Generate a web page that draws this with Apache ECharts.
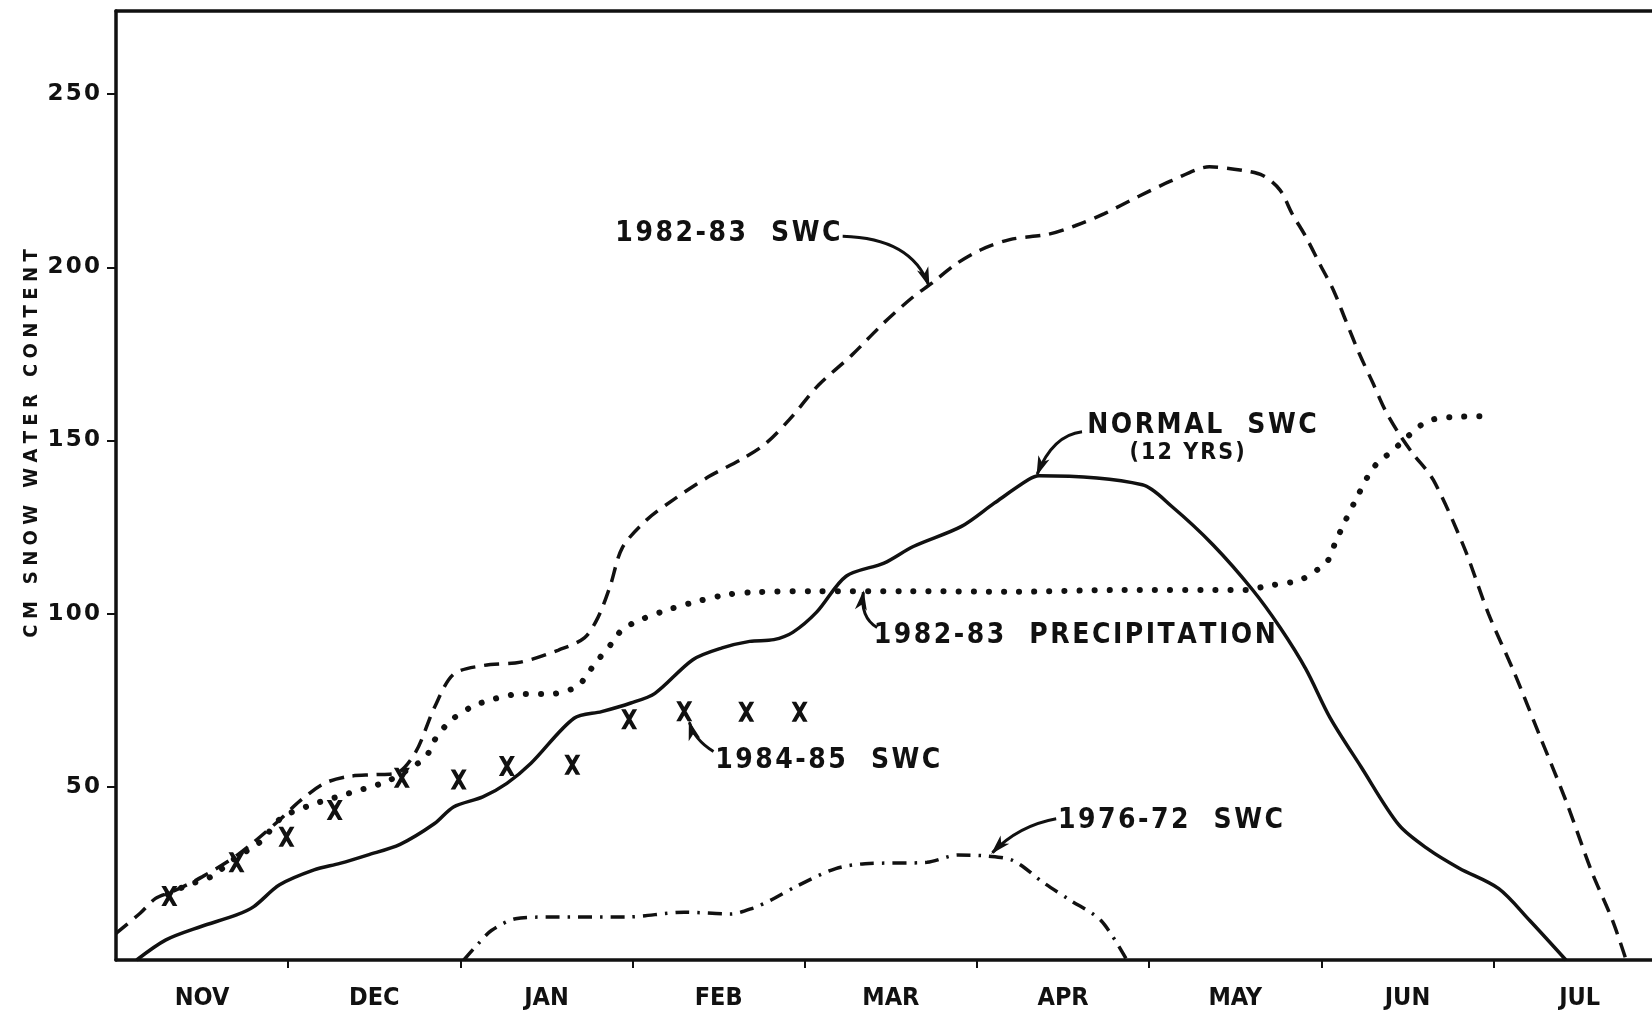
<!DOCTYPE html>
<html>
<head>
<meta charset="utf-8">
<script src="https://cdn.jsdelivr.net/npm/echarts/dist/echarts.min.js"></script>
<style>
  html, body { margin: 0; padding: 0; background: #fff; }
  #main { width: 1652px; height: 1011px; }
</style>
</head>
<body>
<div id="main"></div>
<script>
// months (x = months since 1 Nov)
var months = ['NOV', 'DEC', 'JAN', 'FEB', 'MAR', 'APR', 'MAY', 'JUN', 'JUL'];
var yTicks = [50, 100, 150, 200, 250];
var yTitle = 'CM SNOW WATER CONTENT';

// 1982-83 SWC (dashed)
var swc8283 = [[0, 7.7], [0.14, 13.5], [0.23, 17.8], [0.33, 19.8], [0.5, 24], [0.71, 30.5], [0.94, 40], [1.07, 46],
  [1.21, 51], [1.35, 53], [1.5, 53.5], [1.63, 54], [1.74, 60], [1.85, 73], [1.96, 82.5], [2.13, 85], [2.35, 86],
  [2.57, 89.5], [2.72, 93], [2.80, 99], [2.87, 108], [2.94, 119], [3.08, 127], [3.24, 133], [3.44, 139.5],
  [3.63, 144.5], [3.77, 149], [3.91, 156], [4.08, 166], [4.27, 174.5], [4.46, 184], [4.63, 191.5], [4.74, 195.5],
  [4.88, 201], [5.02, 205], [5.19, 208], [5.41, 209.5], [5.57, 212], [5.74, 215.5], [5.94, 220.5], [6.13, 225],
  [6.35, 229], [6.54, 228], [6.66, 226.5], [6.76, 222.3], [6.83, 215.5], [6.91, 208.8], [6.99, 201], [7.07, 193.4],
  [7.14, 184.8], [7.22, 175.1], [7.30, 166.5], [7.37, 158.8], [7.45, 152], [7.53, 146.3], [7.65, 138.6],
  [7.83, 119], [7.97, 100], [8.12, 83], [8.27, 64.5], [8.42, 46], [8.57, 25.5], [8.69, 11.5], [8.77, 0]];

// 1982-83 precipitation (dotted)
var precip8283 = [[0.3, 19], [0.42, 21.7], [0.55, 24], [0.69, 29.3], [0.84, 34.2], [0.96, 41], [1.13, 44.7],
  [1.35, 48.1], [1.57, 51.5], [1.69, 54.8], [1.80, 58.7], [1.85, 63.5], [1.91, 67.4], [1.96, 69.8], [2.07, 73.2],
  [2.19, 75.3], [2.35, 76.8], [2.52, 76.8], [2.68, 79], [2.74, 82.8], [2.80, 86.7], [2.88, 91.5], [2.94, 95.4],
  [3.05, 98.3], [3.21, 101.2], [3.38, 103.6], [3.55, 105.5], [3.71, 106.2], [4.07, 106.5], [4.6, 106.5],
  [5.2, 106.3], [5.8, 106.8], [6.58, 106.8], [6.67, 107.9], [6.82, 109], [6.89, 110], [6.98, 112.8], [7.04, 115.5],
  [7.08, 120.4], [7.14, 126.9], [7.2, 132.9], [7.28, 140.5], [7.34, 144.3], [7.40, 146.4], [7.47, 149.7],
  [7.53, 152.4], [7.59, 154.8], [7.66, 156.2], [7.77, 156.8], [7.97, 157]];

// normal SWC, 12 yrs (solid)
var normalSwc = [[0.12, 0], [0.29, 5.8], [0.49, 9.6], [0.70, 13], [0.80, 15.4], [0.95, 21.7], [1.15, 26],
  [1.30, 27.9], [1.46, 30.3], [1.65, 33.4], [1.85, 39.4], [1.96, 44.2], [2.13, 47.1], [2.27, 51], [2.41, 56.8],
  [2.66, 69.8], [2.82, 71.7], [2.99, 74.2], [3.13, 77], [3.35, 86.7], [3.52, 90.1], [3.68, 92], [3.82, 92.5],
  [3.93, 94.6], [4.07, 100.5], [4.24, 110.8], [4.46, 114.6], [4.63, 119.4], [4.91, 125.2], [5.10, 131.9],
  [5.30, 138.7], [5.36, 139.8], [5.96, 137.2], [6.13, 131], [6.37, 119.9], [6.60, 106.9], [6.76, 96], [6.91, 84],
  [7.05, 70], [7.23, 55.8], [7.45, 39], [7.62, 32], [7.80, 26.5], [8.03, 20.6], [8.21, 11.4], [8.42, 0]];

// 1976-72 SWC (dash-dot)
var swc7672 = [[2.02, 0], [2.10, 4.5], [2.18, 8.5], [2.32, 11.9], [2.5, 12.4], [2.68, 12.4], [2.96, 12.4],
  [3.30, 13.8], [3.57, 13.3], [3.70, 15], [3.80, 17.2], [3.96, 21.5], [4.18, 26.4], [4.35, 27.8], [4.71, 28.2],
  [4.89, 30.3], [5.06, 30], [5.21, 28.7], [5.39, 22.2], [5.54, 17.3], [5.72, 11.4], [5.87, 0]];

// 1984-85 SWC (x marks)
var swc8485 = [[0.31, 18.5], [0.70, 28.2], [0.99, 35.6], [1.27, 43.3], [1.66, 52.6], [1.99, 52.1], [2.27, 56],
  [2.65, 56.4], [2.98, 69.5], [3.30, 71.8], [3.66, 71.7], [3.97, 71.7]];

// labels and arrows, anchored in data units
var notes = [
  { text: '1982-83  SWC', at: [2.90, 209.6], from: [4.22, 209.0], ctrl: [4.62, 208.5], to: [4.72, 194.8] },
  { text: 'NORMAL  SWC', at: [5.64, 154.4], from: [5.61, 152.5], ctrl: [5.44, 151.5], to: [5.35, 140.3] },
  { text: '(12 YRS)', at: [6.22, 146.4], center: true, small: true },
  { text: '1982-83  PRECIPITATION', at: [4.40, 93.6], from: [4.42, 96.0], ctrl: [4.32, 99.0], to: [4.34, 106.2] },
  { text: '1984-85  SWC', at: [3.48, 57.4], from: [3.47, 60.2], ctrl: [3.36, 63.5], to: [3.33, 68.6] },
  { text: '1976-72  SWC', at: [5.47, 40.1], from: [5.46, 40.8], ctrl: [5.24, 38.8], to: [5.09, 31.0] }
];

function spaced(s, sep) {
  return s.split('').join(sep || '\u200A');
}

var chart = echarts.init(document.getElementById('main'));
var ink = '#111';
var narrow = "'DejaVu Sans Condensed', 'DejaVu Sans', sans-serif";
var wide = "'DejaVu Sans', sans-serif";

var option = {
  animation: false,
  backgroundColor: '#fff',
  grid: { left: 116, right: 0, top: 11, bottom: 51, containLabel: false, outerBoundsMode: 'none' },
  xAxis: [
    {
      type: 'value', min: 0, max: 8.92, position: 'bottom',
      splitLine: { show: false },
      axisLine: { lineStyle: { color: ink, width: 3.5 } },
      axisTick: { show: true, inside: false, length: 8, lineStyle: { color: ink, width: 2 },
        customValues: [1, 2, 3, 4, 5, 6, 7, 8] },
      axisLabel: {
        margin: 26, color: ink, fontFamily: narrow, fontWeight: 'bold', fontSize: 25,
        customValues: months.map(function (m, i) { return i + 0.5; }),
        formatter: function (v) { return months[Math.floor(v)] || ''; }
      }
    },
    {
      type: 'value', min: 0, max: 8.92, position: 'top',
      splitLine: { show: false },
      axisLine: { lineStyle: { color: ink, width: 3.5 } },
      axisTick: { show: false }, axisLabel: { show: false }
    }
  ],
  yAxis: {
    type: 'value', min: 0, max: 274,
    splitLine: { show: false },
    axisLine: { lineStyle: { color: ink, width: 3.5 } },
    axisTick: { show: true, length: 9, lineStyle: { color: ink, width: 2 }, customValues: yTicks },
    axisLabel: {
      margin: 16, color: ink, fontFamily: wide, fontWeight: 'bold', fontSize: 23,
      customValues: yTicks,
      formatter: function (v) { return spaced(String(v), '\u200A'); }
    }
  },
  series: [
    {
      name: '1982-83 SWC', type: 'line', data: swc8283, smooth: 0.3, symbol: 'none',
      lineStyle: { color: ink, width: 3.5, type: [15, 9] }
    },
    {
      name: '1982-83 PRECIPITATION', type: 'line', data: precip8283, smooth: 0.3, symbol: 'none',
      lineStyle: { color: ink, width: 6, type: [0.1, 15], cap: 'round' }
    },
    {
      name: 'NORMAL SWC', type: 'line', data: normalSwc, smooth: 0.3, symbol: 'none',
      lineStyle: { color: ink, width: 3.5 }
    },
    {
      name: '1976-72 SWC', type: 'line', data: swc7672, smooth: 0.3, symbol: 'none',
      lineStyle: { color: ink, width: 3.5, type: [14, 8, 2.5, 8] }
    },
    {
      name: '1984-85 SWC', type: 'scatter', data: swc8485,
      symbol: 'path://M0,0 L4,0 L7,4.6 L10,0 L14,0 L9,8 L14,16 L10,16 L7,11.4 L4,16 L0,16 L5,8 Z',
      symbolSize: [16, 20],
      itemStyle: { color: ink, opacity: 1 }
    }
  ]
};

chart.setOption(option);

// annotations: text + curved arrows, placed through the grid's own scale
function px(p) { return chart.convertToPixel({ gridIndex: 0 }, p); }

var graphics = [];
var top0 = px([0, 274]), bottom0 = px([0, 0]);
graphics.push({
  type: 'text', x: 32, y: (top0[1] + bottom0[1]) / 2 - 42, rotation: Math.PI / 2,
  style: {
    text: spaced(yTitle, '\u2009\u200A'), fill: ink,
    font: 'bold 20px ' + narrow,
    textAlign: 'center', textVerticalAlign: 'middle', align: 'center', verticalAlign: 'middle'
  }
});
notes.forEach(function (n) {
  var t = px(n.at);
  graphics.push({
    type: 'text', x: t[0], y: t[1], z: 100,
    style: {
      text: spaced(n.text), fill: ink,
      font: 'bold ' + (n.small ? 23 : 28) + 'px ' + narrow,
      textAlign: n.center ? 'center' : 'left', textVerticalAlign: 'middle',
      align: n.center ? 'center' : 'left', verticalAlign: 'middle'
    }
  });
  if (n.from) {
    var a = px(n.from), c = px(n.ctrl), b = px(n.to);
    graphics.push({
      type: 'bezierCurve', z: 100,
      shape: { x1: a[0], y1: a[1], cpx1: c[0], cpy1: c[1], x2: b[0], y2: b[1] },
      style: { stroke: ink, lineWidth: 3, fill: null }
    });
    var dx = b[0] - c[0], dy = b[1] - c[1];
    var len = Math.sqrt(dx * dx + dy * dy) || 1;
    var ux = dx / len, uy = dy / len;
    var hl = 18, hw = 6;
    graphics.push({
      type: 'polygon', z: 101,
      shape: { points: [
        [b[0] + ux * 2, b[1] + uy * 2],
        [b[0] - ux * hl - uy * hw, b[1] - uy * hl + ux * hw],
        [b[0] - ux * hl * 0.7, b[1] - uy * hl * 0.7],
        [b[0] - ux * hl + uy * hw, b[1] - uy * hl - ux * hw]
      ] },
      style: { fill: ink }
    });
  }
});
chart.setOption({ graphic: graphics });
</script>
</body>
</html>
